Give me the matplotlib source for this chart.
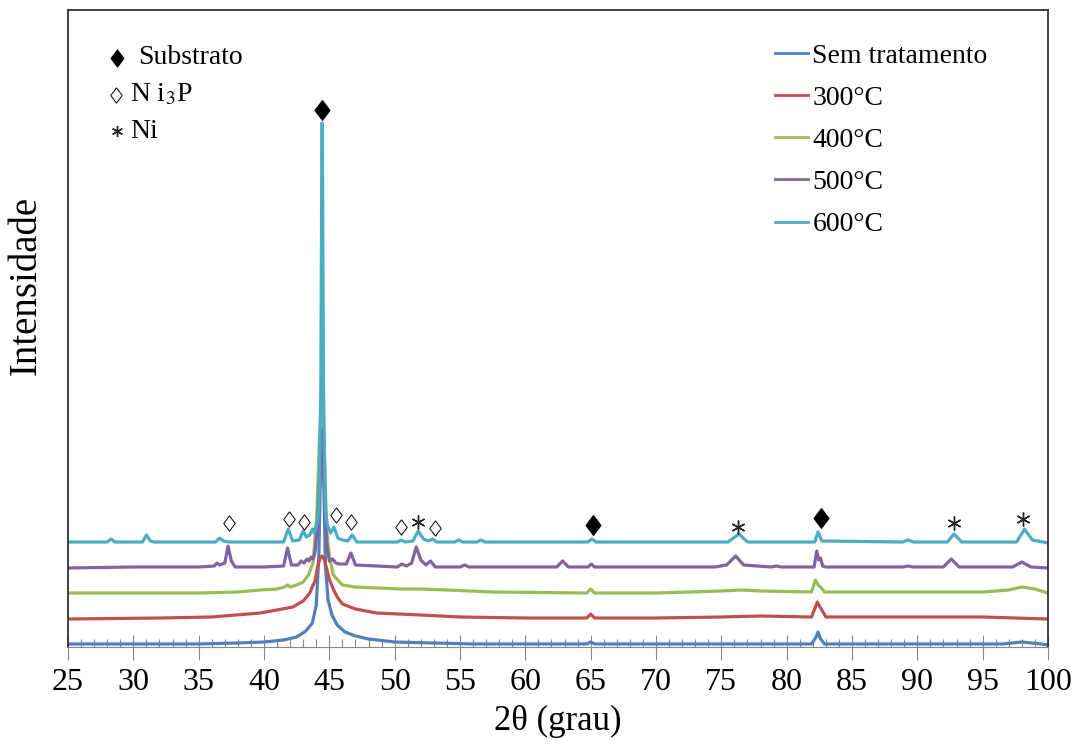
import matplotlib
matplotlib.use("Agg")
import matplotlib.pyplot as plt
from matplotlib.path import Path

plt.rcParams['font.family'] = ['Liberation Serif', 'DejaVu Serif']
plt.rcParams['mathtext.fontset'] = 'stix'

# ---------------- data (intensity in arbitrary units, offset-stacked) ----------------
labels = ["Sem tratamento", "300°C", "400°C", "500°C", "600°C"]
colors = ["#4F81BD", "#C0504D", "#9BBB59", "#8064A2", "#4BACC6"]

x_sem = [25, 30, 35, 38, 40, 41.5, 42.5, 43.2, 43.7, 44.0, 44.2, 44.35, 44.45, 44.55, 44.7,
         44.9, 45.2, 45.6, 46.2, 47.0, 48.0, 50.0, 53.0, 56.0, 64.7, 65.0, 65.3, 81.9, 82.25,
         82.4, 82.6, 82.9, 96.5, 98.0, 99.5, 100]
y_sem = [1, 1, 1, 2, 3, 5, 8, 14, 22, 40, 90, 190, 225, 180, 80,
         45, 30, 20, 13, 9, 6, 3, 2, 1, 1, 3, 1, 1, 8,
         13, 6, 1, 1, 3, 1, 0]

x_300 = [25, 32, 36, 39.7, 41, 42.2, 43.0, 43.5, 43.9, 44.1, 44.3, 44.45, 44.6, 44.8, 45.0,
         45.3, 45.6, 46.0, 47.0, 48.6, 52, 55, 60, 64.7, 65.0, 65.3, 70, 75, 78, 81.9, 82.2,
         82.35, 82.55, 82.7, 83.0, 90, 95, 100]
y_300 = [26, 27, 28, 32, 35, 38, 44, 52, 64, 78, 87, 89, 86, 76, 66,
         56, 48, 41, 36, 32, 30, 28, 27, 27, 31, 27, 27, 28, 29, 28, 38,
         43, 38, 35, 28, 28, 28, 26]

x_400 = [25, 35, 38, 39.7, 41.0, 41.6, 41.8, 42.0, 42.5, 43.0, 43.4, 43.75, 44.05, 44.25,
         44.45, 44.6, 44.8, 45.0, 45.3, 46.0, 47.0, 48.6, 50.5, 52.0, 54, 57.5, 64.7, 65.0,
         65.3, 70, 75, 76.5, 78, 81.9, 82.2, 82.4, 82.6, 82.9, 90, 95, 97, 98, 99, 100]
y_400 = [52, 52, 53, 55, 56, 58, 60, 58, 60, 63, 70, 82, 132, 210,
         245, 200, 115, 90, 70, 60, 58, 57, 56, 56, 55, 53, 52, 56,
         52, 52, 54, 55, 54, 53, 65, 60, 58, 53, 53, 53, 55, 58, 56, 52]

x_500 = [25, 30, 35, 36.2, 36.4, 36.6, 37.0, 37.25, 37.5, 37.8, 40, 41.5, 41.8, 42.1, 42.6,
         42.85, 43.05, 43.3, 43.45, 43.6, 43.75, 43.9, 44.1, 44.3, 44.45, 44.6, 44.8, 45.0,
         45.25, 45.5, 45.75, 46.3, 46.65, 47.0, 50.2, 50.55, 50.9, 51.3, 51.65, 52.0, 52.4,
         52.75, 53.1, 55.0, 55.35, 55.7, 62.4, 62.85, 63.3, 64.8, 65.05, 65.3, 70, 74.5, 75.4,
         76.1, 76.7, 78.8, 79.2, 79.6, 82.1, 82.3, 82.45, 82.6, 82.75, 83.0, 88.9, 89.3, 89.7,
         92.0, 92.6, 93.2, 97.3, 98.0, 98.7, 100]
y_500 = [77, 78, 78, 79, 82, 80, 82, 99, 84, 78, 78, 79, 97, 80, 80,
         84, 82, 86, 84, 88, 86, 92, 120, 180, 215, 160, 100, 84,
         86, 82, 81, 81, 92, 80, 78, 81, 79, 82, 98, 85, 80,
         84, 78, 78, 80, 78, 78, 84, 78, 78, 81, 78, 78, 78, 80,
         89, 80, 78, 79, 78, 78, 94, 85, 87, 79, 78, 78, 79, 78,
         78, 86, 78, 78, 83, 78, 77]

x_600 = [25, 28.0, 28.3, 28.6, 30.7, 31.0, 31.3, 31.6, 36.3, 36.6, 36.9, 37.3, 41.5, 41.85,
         42.2, 42.7, 43.0, 43.25, 43.5, 43.7, 43.85, 44.1, 44.2, 44.35, 44.42, 44.45, 44.48,
         44.55, 44.7, 44.85, 45.1, 45.35, 45.65, 46.0, 46.4, 46.75, 47.1, 50.2, 50.5, 50.8,
         51.4, 51.8, 52.2, 52.6, 52.9, 53.2, 54.6, 54.9, 55.2, 56.3, 56.6, 56.9, 64.8, 65.1,
         65.4, 75.5, 76.35, 77.0, 82.15, 82.4, 82.7, 88.9, 89.3, 89.7, 92.3, 92.8, 93.4, 97.6,
         98.2, 98.8, 100]
y_600 = [103, 103, 106, 103, 103, 110, 104, 103, 103, 107, 104, 103, 103, 116,
         104, 105, 114, 108, 110, 116, 112, 125, 135, 260, 480, 522, 480,
         260, 135, 120, 112, 118, 107, 105, 104, 110, 103, 103, 105, 103,
         104, 114, 106, 104, 106, 103, 103, 105, 103, 103, 105, 103, 103, 106,
         103, 103, 111, 103, 103, 113, 104, 103, 105, 103, 103, 111, 103, 103,
         116, 105, 102]

series_x = [x_sem, x_300, x_400, x_500, x_600]
series_y = [y_sem, y_300, y_400, y_500, y_600]

# phase markers (peak position, marker height)
substrato_x = [44.45, 65.2, 82.6]
substrato_y = [535, 120, 127]
ni3p_x = [37.3, 41.9, 43.06, 45.5, 46.66, 50.46, 53.1]
ni3p_y = [122, 126, 123, 130, 123, 118, 117]
ni_x = [51.8, 76.3, 92.8, 98.1]
ni_y = [123, 118, 122, 126]

xticks = list(range(25, 101, 5))

# diamond marker shape (a little taller than wide)
diamond = Path([(0, 1), (0.75, 0), (0, -1), (-0.75, 0), (0, 1)],
               [Path.MOVETO, Path.LINETO, Path.LINETO, Path.LINETO, Path.CLOSEPOLY])

# ---------------- figure ----------------
fig = plt.figure(figsize=(10.75, 7.44), dpi=100)
ax = fig.add_axes([68 / 1075, (744 - 647) / 744, (1048 - 68) / 1075, (647 - 10) / 744])

for xs, ys, c, lab in zip(series_x, series_y, colors, labels):
    ax.plot(xs, ys, color=c, lw=2.3, label=lab, solid_joinstyle='round')

ax.plot(substrato_x, substrato_y, linestyle='none', marker=diamond, ms=14, color='black')
ax.plot(ni3p_x, ni3p_y, linestyle='none', marker=diamond, ms=11, mfc='white', mec='black',
        mew=0.7)
ax.plot(ni_x, ni_y, linestyle='none', marker=(6, 2, 0), ms=10, color='#222222', mew=1.0)

ax.set_xlim(25, 100)
ax.set_ylim(-2, 635)
ax.set_yticks([])
ax.set_xticks(xticks)
ax.set_xticks(range(25, 101), minor=True)
ax.tick_params(axis='x', which='major', direction='inout', length=18, width=0.8,
               color='#888888', labelsize=23, pad=6)
ax.tick_params(axis='x', which='minor', direction='in', length=6, width=0.8, color='#888888')
for s in ['left', 'top', 'right']:
    ax.spines[s].set_color('#333333')
    ax.spines[s].set_linewidth(1.3)
ax.spines['bottom'].set_color('#888888')
ax.spines['bottom'].set_linewidth(0.8)

ax.set_xlabel('2θ (grau)', fontsize=25, labelpad=6)
ax.set_ylabel('Intensidade', fontsize=28)
ax.yaxis.set_label_coords(-0.0235, 0.568)

# phase key (top left)
ax.plot([0.05], [0.925], transform=ax.transAxes, marker=diamond, ms=12, color='black',
        clip_on=False)
ax.text(0.072, 0.925, 'Substrato', transform=ax.transAxes, fontsize=20, va='center')
ax.plot([0.049], [0.867], transform=ax.transAxes, marker=diamond, ms=11, mfc='white',
        mec='black', mew=0.7, clip_on=False)
ax.text(0.063, 0.867, r'N i$_3$P', transform=ax.transAxes, fontsize=20, va='center')
ax.plot([0.05], [0.81], transform=ax.transAxes, marker=(6, 2, 0), ms=8, color='#222222',
        mew=1.0, clip_on=False)
ax.text(0.063, 0.81, 'Ni', transform=ax.transAxes, fontsize=20, va='center')

leg = ax.legend(loc='upper left', bbox_to_anchor=(0.71, 0.965), frameon=False, fontsize=20,
                handlelength=1.2, handletextpad=0.15, labelspacing=0.6, borderaxespad=0)
for h in leg.get_lines():
    h.set_linewidth(2.0)

fig.savefig('out.png', dpi=100)
